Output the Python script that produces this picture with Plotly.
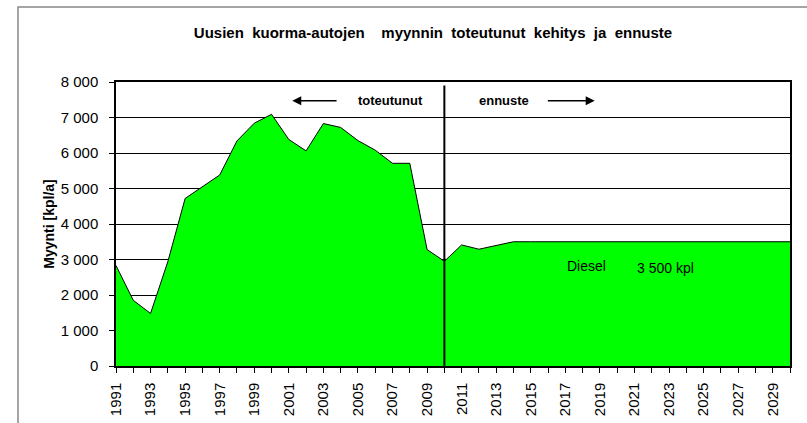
import plotly.graph_objects as go

years = list(range(1991, 2031))
sales = [2830, 1850, 1480, 2940, 4720, 5050, 5380, 6340, 6840, 7090,
         6380, 6060, 6830, 6720, 6350, 6080, 5710, 5710, 3280, 2950,
         3410, 3290, 3390, 3500, 3500, 3500, 3500, 3500, 3500, 3500,
         3500, 3500, 3500, 3500, 3500, 3500, 3500, 3500, 3500, 3500]
y_ticks = [0, 1000, 2000, 3000, 4000, 5000, 6000, 7000, 8000]
x_tick_text = [str(y) if (y - 1991) % 2 == 0 else "" for y in years]
forecast_start = 2010

title_words = ["Uusien", "kuorma-autojen&nbsp;&nbsp;", "myynnin", "toteutunut",
               "kehitys", "ja", "ennuste"]
title = "&nbsp; ".join(title_words)
y_title = "Myynti [kpl/a]"

FONT = "Liberation Sans, Arial, sans-serif"

fig = go.Figure()
fig.add_trace(go.Scatter(
    x=years, y=sales, mode="lines", fill="tozeroy",
    fillcolor="#00FF00", line=dict(color="#000000", width=1),
    hoverinfo="x+y", showlegend=False,
))

fig.add_shape(type="line", xref="x", yref="y", x0=forecast_start, x1=forecast_start,
              y0=0, y1=7900, line=dict(color="#000000", width=2))

# outer chart frame
fig.add_shape(type="rect", xref="paper", yref="paper", x0=-0.1454, x1=1.2,
              y0=-0.5, y1=1.264, line=dict(color="#888888", width=1.5), layer="below")

ann_font = dict(family=FONT, size=13, color="#000000")
fig.add_annotation(x=2006.9, y=7470, text="<b>toteutunut</b>", showarrow=False, font=ann_font)
fig.add_annotation(x=2013.45, y=7470, text="<b>ennuste</b>", showarrow=False, font=ann_font)
fig.add_annotation(x=2001.2, y=7470, ax=2003.85, ay=7470, axref="x", ayref="y",
                   text="", showarrow=True, arrowhead=2, arrowsize=1.2, arrowwidth=1.5,
                   arrowcolor="#000000")
fig.add_annotation(x=2018.7, y=7470, ax=2015.9, ay=7470, axref="x", ayref="y",
                   text="", showarrow=True, arrowhead=2, arrowsize=1.2, arrowwidth=1.5,
                   arrowcolor="#000000")
fig.add_annotation(x=2018.2, y=2820, text="Diesel", showarrow=False,
                   font=dict(family=FONT, size=14, color="#000000"))
fig.add_annotation(x=2022.8, y=2760, text="3 500 kpl", showarrow=False,
                   font=dict(family=FONT, size=14, color="#000000"))

fig.update_layout(
    width=807, height=423,
    margin=dict(l=116, r=17, t=82, b=57, autoexpand=False),
    paper_bgcolor="#FFFFFF", plot_bgcolor="#FFFFFF",
    separators=". ",
    title=dict(text="<b>" + title + "</b>", x=433 / 807, xanchor="center",
               y=1 - 33 / 423, yanchor="middle",
               font=dict(family=FONT, size=15, color="#000000")),
    font=dict(family=FONT, color="#000000"),
)
fig.update_xaxes(
    range=[1991, 2030], tickmode="array", tickvals=years, ticktext=x_tick_text,
    tickangle=-90, ticks="outside", ticklen=5, tickcolor="#000000",
    tickfont=dict(family=FONT, size=15, color="#000000"),
    showline=True, linecolor="#000000", linewidth=1.5, mirror=True,
    showgrid=False, zeroline=False, ticklabelstandoff=4, automargin=False,
)
fig.update_yaxes(
    range=[0, 8000], tickmode="array", tickvals=y_ticks, tickformat=",d",
    ticks="outside", ticklen=5, tickcolor="#000000",
    tickfont=dict(family=FONT, size=15, color="#000000"),
    showline=True, linecolor="#000000", linewidth=1.5, mirror=True,
    showgrid=True, gridcolor="#000000", gridwidth=1, zeroline=False,
    ticklabelstandoff=8, automargin=False,
    title=dict(text="<b>" + y_title + "</b>", standoff=3,
               font=dict(family=FONT, size=14, color="#000000")),
)

fig.write_html("out.html", config={"displayModeBar": False},
               post_script="document.body.style.margin='0';document.body.style.overflow='hidden';")
